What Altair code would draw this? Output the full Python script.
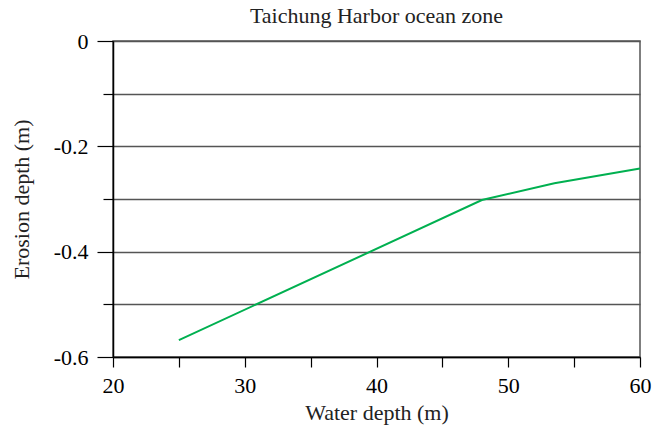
import altair as alt
import pandas as pd

water_depth = [25, 48, 53.5, 60]
erosion_depth = [-0.568, -0.302, -0.270, -0.242]
x_ticks = [20, 25, 30, 35, 40, 45, 50, 55, 60]
y_ticks = [0, -0.1, -0.2, -0.3, -0.4, -0.5, -0.6]

df = pd.DataFrame({"x": water_depth, "y": erosion_depth})

FONT = "Liberation Serif"

chart = alt.Chart(df).mark_line(color="#00b050", strokeWidth=2).encode(
    x=alt.X("x:Q", scale=alt.Scale(domain=[20, 60], nice=False),
            axis=alt.Axis(title="Water depth (m)", values=x_ticks,
                          labelExpr="datum.value % 10 == 0 ? datum.label : ''",
                          tickSize=10, tickColor="black", domainColor="black",
                          tickWidth=1.2, domainWidth=1.5, labelFlush=False,
                          grid=False, labelPadding=8, titlePadding=6,
                          labelFont=FONT, titleFont=FONT, labelFontSize=22, titleFontSize=22,
                          labelColor="black", titleColor="#222222", titleFontWeight="normal")),
    y=alt.Y("y:Q", scale=alt.Scale(domain=[-0.6, 0], nice=False),
            axis=alt.Axis(title="Erosion depth (m)", values=y_ticks,
                          labelExpr="abs(round(datum.value*10)) % 2 == 0 ? (datum.value == 0 ? '0' : '-' + format(abs(datum.value), '.1f')) : ''",
                          tickSize={"condition": {"test": "abs(round(datum.value*10)) % 2 == 0", "value": 16}, "value": 10},
                          tickColor="black", domainColor="black", tickWidth=1.2, domainWidth=1.5,
                          grid=True, gridColor="#555555", gridWidth=1.5, gridOpacity=1,
                          labelPadding=9, titlePadding=20, labelFlush=False,
                          labelFont=FONT, titleFont=FONT, labelFontSize=22, titleFontSize=22,
                          labelColor="black", titleColor="#222222", titleFontWeight="normal")),
).properties(
    width=527, height=316,
    title=alt.TitleParams("Taichung Harbor ocean zone", font=FONT, fontSize=22,
                          fontWeight="normal", color="#222222", offset=2, anchor="middle"),
).configure_view(stroke="#555555", strokeWidth=1.5).properties(
    autosize=alt.AutoSizeParams(type="none"),
    padding={"left": 113, "top": 41, "right": 25, "bottom": 77},
)

chart.save("out.html", embed_options={"renderer": "svg", "actions": False})
